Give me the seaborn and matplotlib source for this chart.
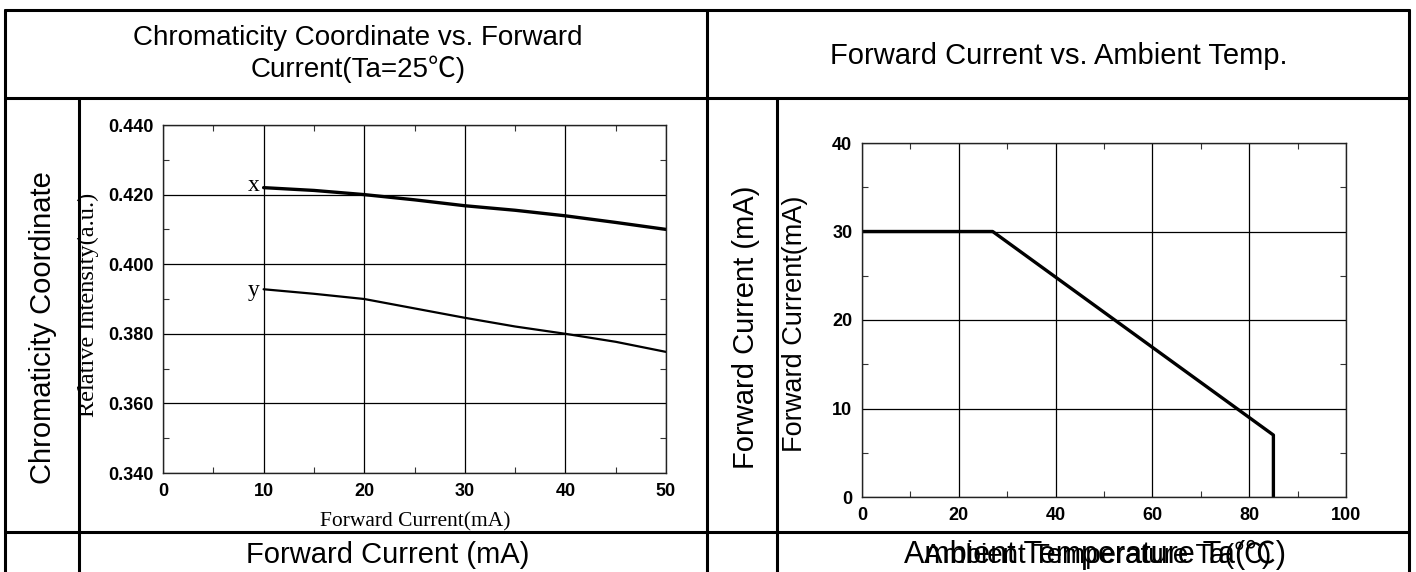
import matplotlib
matplotlib.use("Agg")
import matplotlib.pyplot as plt
import numpy as np
import pandas as pd
import seaborn as sns
from matplotlib.lines import Line2D
from matplotlib.ticker import MultipleLocator

# chart data
current_ma = [10, 15, 20, 25, 30, 35, 40, 45, 50]
coord_x = [0.422, 0.4212, 0.420, 0.4185, 0.4168, 0.4155, 0.4139, 0.412, 0.410]
coord_y = [0.3928, 0.3915, 0.390, 0.3873, 0.3846, 0.3821, 0.380, 0.3777, 0.3748]

temp_c = [0, 27, 85, 85]
derate_ma = [30, 30, 7, 0]

chroma_xticks = [0, 10, 20, 30, 40, 50]
chroma_yticks = [0.340, 0.360, 0.380, 0.400, 0.420, 0.440]
temp_xticks = [0, 20, 40, 60, 80, 100]
temp_yticks = [0, 10, 20, 30, 40]

sns.set_style("white")
SANS = ["Liberation Sans", "Noto Sans CJK SC", "DejaVu Sans"]
SERIF = ["Liberation Serif", "DejaVu Serif"]
TICKF = ["Liberation Sans", "DejaVu Sans"]
plt.rcParams["font.family"] = SANS
plt.rcParams["text.color"] = "black"
plt.rcParams["xtick.color"] = "black"
plt.rcParams["ytick.color"] = "black"

W, H = 1416, 572
fig = plt.figure(figsize=(W / 100, H / 100), dpi=100)


def px_axes(x0, y0, x1, y1):
    # pixel box (top-left origin) -> figure axes
    return fig.add_axes([x0 / W, 1 - y1 / H, (x1 - x0) / W, (y1 - y0) / H])


def hline(y, x0, x1, lw=2.2):
    fig.add_artist(Line2D([x0 / W, x1 / W], [1 - y / H, 1 - y / H], color="black", lw=lw))


def vline(x, y0, y1, lw=2.2):
    fig.add_artist(Line2D([x / W, x / W], [1 - y0 / H, 1 - y1 / H], color="black", lw=lw))


def ftext(x, y, s, **kw):
    fig.text(x / W, 1 - y / H, s, ha="center", va="center", color="black", **kw)


def style_axes(ax, xticks, yticks, xminor, yminor, yfmt):
    ax.set_xticks(xticks)
    ax.set_yticks(yticks)
    ax.set_xticklabels([str(t) for t in xticks])
    ax.set_yticklabels([yfmt.format(t) for t in yticks])
    ax.xaxis.set_minor_locator(MultipleLocator(xminor))
    ax.yaxis.set_minor_locator(MultipleLocator(yminor))
    ax.tick_params(which="both", direction="in", top=True, right=True, bottom=True, left=True)
    ax.tick_params(which="major", length=0, pad=7)
    ax.tick_params(which="minor", length=4, width=0.8, color="#333333")
    for lab in ax.get_xticklabels() + ax.get_yticklabels():
        lab.set_fontfamily(TICKF)
        lab.set_fontweight("bold")
        lab.set_fontsize(13)
        lab.set_color("black")
    ax.grid(True, which="major", color="black", lw=0.9)
    for sp in ax.spines.values():
        sp.set_color("#222222")
        sp.set_linewidth(1.0)
    ax.set_xlabel("")
    ax.set_ylabel("")


# left chart: chromaticity vs forward current
ax1 = px_axes(163, 125, 666, 473)
sns.lineplot(x=current_ma, y=coord_x, ax=ax1, color="black", lw=2.4, estimator=None, sort=False)
sns.lineplot(x=current_ma, y=coord_y, ax=ax1, color="black", lw=1.6, estimator=None, sort=False)
ax1.set_xlim(0, 50)
ax1.set_ylim(0.340, 0.440)
style_axes(ax1, chroma_xticks, chroma_yticks, 5, 0.01, "{:.3f}")
ax1.text(9.6, coord_x[0] + 0.0006, "x", family=SERIF, fontsize=17, ha="right", va="center")
ax1.text(9.6, coord_y[0] - 0.0005, "y", family=SERIF, fontsize=17, ha="right", va="center")

# right chart: derating curve
ax2 = px_axes(862, 143, 1346, 497)
sns.lineplot(x=temp_c, y=derate_ma, ax=ax2, color="black", lw=2.4, estimator=None, sort=False)
ax2.set_xlim(0, 100)
ax2.set_ylim(0, 40)
style_axes(ax2, temp_xticks, temp_yticks, 10, 5, "{}")

# table frame
hline(10, 5, 1409)
hline(98, 5, 1409)
hline(532, 5, 1409)
vline(5, 10, 572)
vline(1409, 10, 572)
vline(707, 10, 572)
vline(79, 98, 572)
vline(777, 98, 572)

# header and outer labels
ftext(358, 38, "Chromaticity Coordinate vs. Forward", fontsize=20)
ftext(358, 69, "Current(Ta=25℃)", fontsize=20)
ftext(1059, 56, "Forward Current vs. Ambient Temp.", fontsize=21)

ftext(43, 328, "Chromaticity Coordinate", fontsize=21, rotation=90)
ftext(88, 305, "Relative Intensity(a.u.)", family=SERIF, fontsize=17.5, rotation=90)
ftext(415, 522, "Forward Current(mA)", family=SERIF, fontsize=15.5)
ftext(388, 555, "Forward Current (mA)", fontsize=21)

ftext(746, 327, "Forward Current (mA)", fontsize=21, rotation=90)
ftext(795, 324, "Forward Current(mA)", fontsize=19.5, rotation=90)
fig.text(904 / W, 1 - 555 / H, "Ambient Temperature Ta(℃)", ha="left", va="center",
         fontsize=22, color="black")
fig.text(924 / W, 1 - 555 / H, "Ambient Temperature Ta(℃)", ha="left", va="center",
         fontsize=20, color="black")

fig.savefig("out.png", dpi=100)
